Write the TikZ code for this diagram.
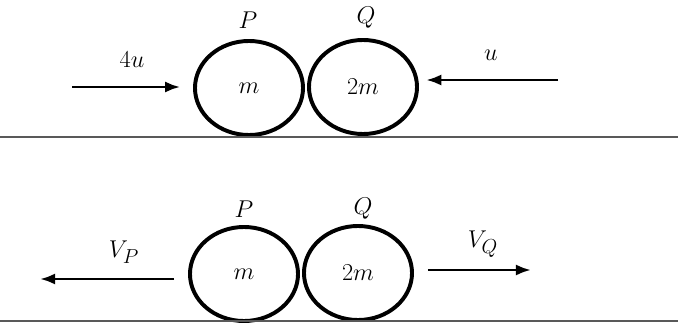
\documentclass[tikz,border=0pt]{standalone}
\usepackage{amsmath}
\usepackage{tikz}
\usetikzlibrary{arrows.meta,shapes.geometric}
\tikzset{
  ball/.style={ellipse,draw,line width=2.8pt,minimum width=2.7cm,minimum height=2.35cm,
    inner sep=0pt,font=\fontsize{19}{22}\selectfont},
  tag/.style={font=\fontsize{19}{22}\selectfont,inner sep=1pt},
  vel/.style={line width=2pt,-{Latex[length=3.8mm,width=2.8mm]}},
  ground/.style={line width=0.9pt,black!65}}
\begin{document}
\begin{tikzpicture}[x=0.025cm,y=-0.025cm]
  \useasboundingbox (0,0) rectangle (678,329);
  % before the collision
  \node[ball] (P1) at (249,88) {$m$};
  \node[ball] (Q1) at (363,87) {$2m$};
  \node[tag] (lP1) at (248,20) {$P$};
  \node[tag] (lQ1) at (366,18) {$Q$};
  \coordinate (a) at (72,87);
  \coordinate (b) at (558,80);
  \draw[vel,shorten >=0.32cm] (a) -- (a -| P1.west);
  \draw[vel,shorten >=0.18cm] (b) -- (b -| Q1.east);
  \node[tag] (la) at (132,60) {$4u$};
  \node[tag] (lb) at (491,55) {$u$};
  \draw[ground] (0,137) -- (678,137);
  % after the collision
  \node[ball] (P2) at (244,274) {$m$};
  \node[ball] (Q2) at (358,273) {$2m$};
  \node[tag] (lP2) at (244,209) {$P$};
  \node[tag] (lQ2) at (363,209) {$Q$};
  \coordinate (vp) at (40,279);
  \coordinate (vq) at (531,270);
  \draw[vel,shorten <=0.35cm] (vp -| P2.west) -- (vp);
  \draw[vel,shorten <=0.35cm] (vq -| Q2.east) -- (vq);
  \node[tag] (lvp) at (124,252) {$V_P$};
  \node[tag] (lvq) at (483,244) {$V_Q$};
  \draw[ground] (0,321) -- (678,321);
\end{tikzpicture}
\end{document}
